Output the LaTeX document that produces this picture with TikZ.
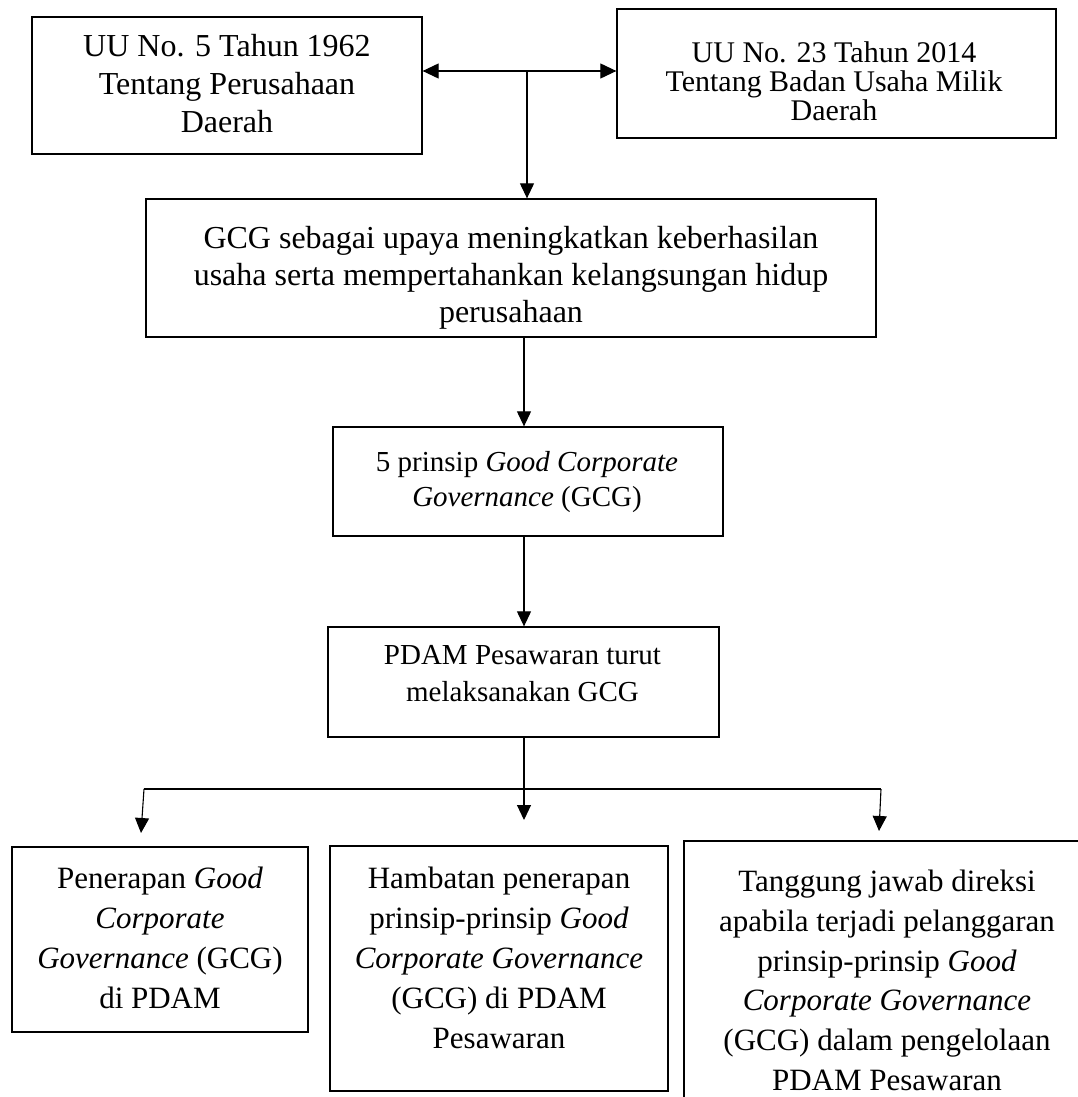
\documentclass[tikz,border=0pt]{standalone}
\usepackage{fontspec}
\setmainfont{Liberation Serif}
\usetikzlibrary{arrows.meta}
\begin{document}
\begin{tikzpicture}[x=1pt,y=-1pt,
  box/.style={draw, line width=1.3pt, rectangle, inner sep=0pt},
  txt/.style={align=center, inner sep=0pt},
  conn/.style={line width=1.1pt},
  arr/.style={conn, -{Triangle[length=15pt,width=14pt]}},
  darr/.style={conn, {Triangle[length=16pt,width=15pt]}-{Triangle[length=16pt,width=15pt]}}]
\useasboundingbox (0,0) rectangle (1078,1097);
\clip (0,0) rectangle (1078,1097);
\fill[white] (0,0) rectangle (1078,1097);
% boxes
\node[box, minimum width=390pt, minimum height=137pt] (b1) at (227,85.5) {};
\node[box, minimum width=439pt, minimum height=129pt] (b2) at (836.5,73.5) {};
\node[box, minimum width=730pt, minimum height=138pt] (b3) at (511,268) {};
\node[box, minimum width=390pt, minimum height=109pt] (b4) at (528,481.5) {};
\node[box, minimum width=391pt, minimum height=110pt] (b5) at (523.5,682) {};
\node[box, minimum width=296pt, minimum height=185pt] (b6) at (160,939.5) {};
\node[box, minimum width=338pt, minimum height=245pt] (b7) at (499,968.5) {};
\node[box, minimum width=406pt, minimum height=279pt] (b8) at (887,980.5) {};
% texts
\node[txt, font=\fontsize{32}{38}\selectfont] (t1) at (227,84) {UU No. 5 Tahun 1962\\Tentang Perusahaan\\Daerah};
\node[txt, font=\fontsize{30}{29}\selectfont] (t2) at (834,80.8) {UU No. 23 Tahun 2014\\Tentang Badan Usaha Milik\\Daerah};
\node[txt, font=\fontsize{32}{37}\selectfont] (t3) at (511,277.5) {GCG sebagai upaya meningkatkan keberhasilan\\usaha serta mempertahankan kelangsungan hidup\\perusahaan};
\node[txt, font=\fontsize{29}{35}\selectfont] (t4) at (527,482) {5 prinsip \textit{Good Corporate}\\\textit{Governance} (GCG)};
\node[txt, font=\fontsize{29}{36.7}\selectfont] (t5) at (522.5,673.5) {PDAM Pesawaran turut\\melaksanakan GCG};
\node[txt, font=\fontsize{31}{40}\selectfont] (t6) at (160,937.4) {Penerapan \textit{Good}\\\textit{Corporate}\\\textit{Governance} (GCG)\\di PDAM};
\node[txt, font=\fontsize{31}{40}\selectfont] (t7) at (499,957.4) {Hambatan penerapan\\prinsip-prinsip \textit{Good}\\\textit{Corporate Governance}\\(GCG) di PDAM\\Pesawaran};
\node[txt, font=\fontsize{31}{39.7}\selectfont] (t8) at (887,980.4) {Tanggung jawab direksi\\apabila terjadi pelanggaran\\prinsip-prinsip \textit{Good}\\\textit{Corporate Governance}\\(GCG) dalam pengelolaan\\PDAM Pesawaran};
% connector coordinates
\coordinate (jn) at (527,71);
\coordinate (mx) at (524,0);
\coordinate (mtip) at (524,820);
\coordinate (hl) at (144,789);
\coordinate (hr) at (881,789);
\coordinate (ltip) at (141,833);
\coordinate (rtip) at (879,831);
% connectors
\draw[darr] (b1.east |- jn) -- (b2.west |- jn);
\draw[arr] (jn) -- (b3.north -| jn);
\draw[arr] (b3.south -| mx) -- (b4.north -| mx);
\draw[arr] (b4.south -| mx) -- (b5.north -| mx);
\draw[arr] (b5.south -| mx) -- (mtip);
\draw[conn] (hl) -- (hr);
\draw[arr] (hl) -- (ltip);
\draw[arr] (hr) -- (rtip);
\end{tikzpicture}
\end{document}
